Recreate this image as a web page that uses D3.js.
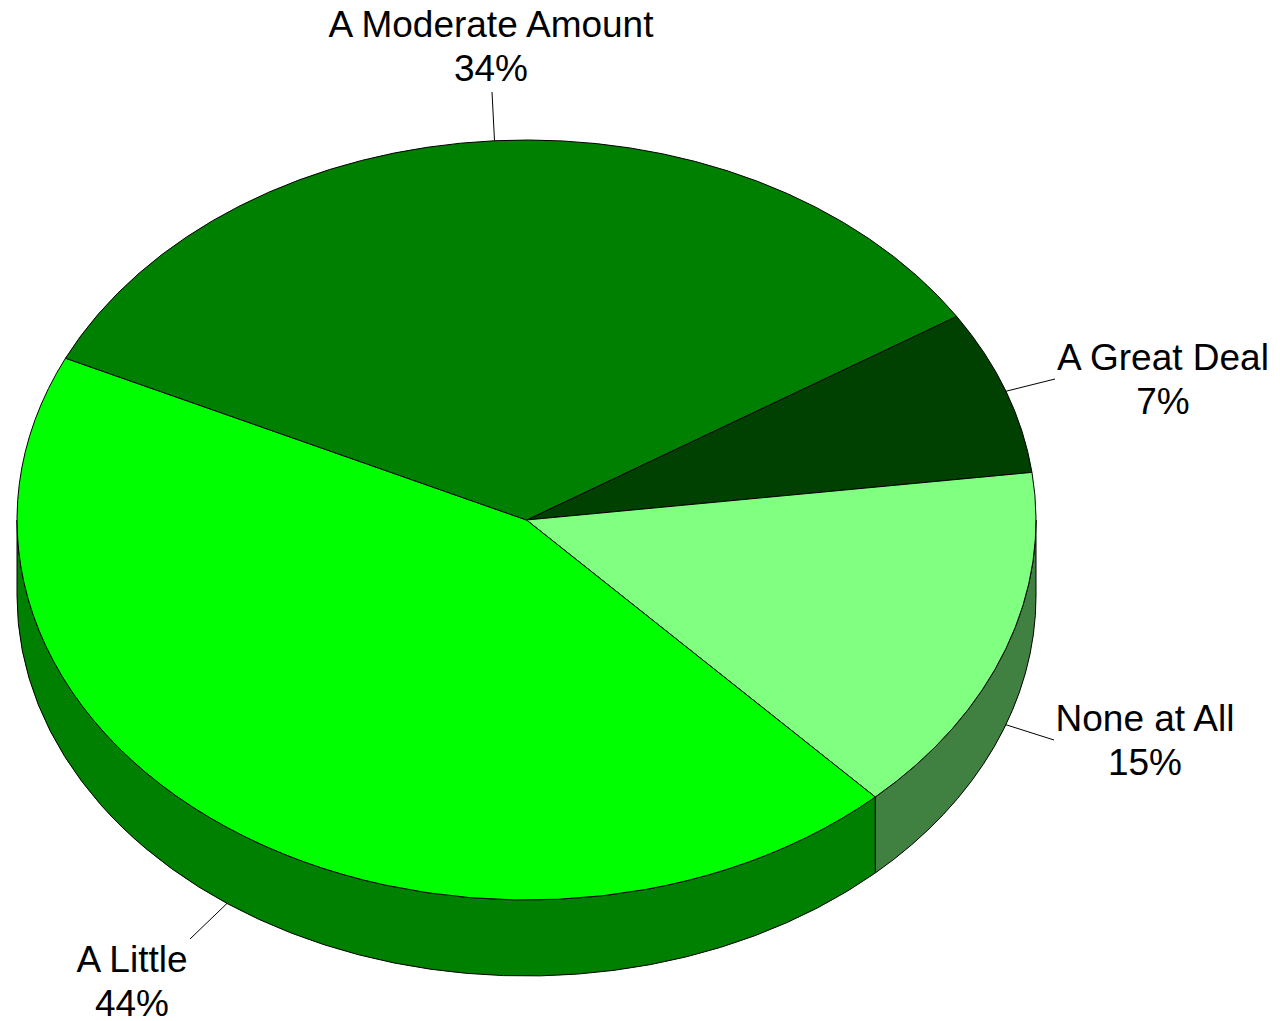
<!DOCTYPE html>
<html>
<head>
<meta charset="utf-8">
<script src="https://cdn.jsdelivr.net/npm/d3@7"></script>
<style>
  html, body { margin: 0; padding: 0; background: #fff; }
  svg { display: block; }
  text { font-family: Arial, "Liberation Sans", sans-serif; fill: #000; }
</style>
</head>
<body>
<div id="chart"></div>
<script>
  'use strict';

  // data, clockwise from the first slice
  var categories = ['A Great Deal', 'None at All', 'A Little', 'A Moderate Amount'];
  var values = [7, 15, 44, 34];
  var topColors = ['#004000', '#80ff80', '#00ff00', '#008000'];
  var sideColors = ['#002000', '#408040', '#008000', '#004000'];

  // label layout: text centre x, first baseline y, leader end point
  var labelLayout = [
    { x: 1163, y: 370, lx: 1055, ly: 379 },
    { x: 1145, y: 731, lx: 1054, ly: 740 },
    { x: 132, y: 972, lx: 190, ly: 939 },
    { x: 491, y: 37, lx: 492, ly: 92 }
  ];

  var width = 1280,
      height = 1021,
      cx = 526.5,
      cy = 520,
      rx = 509.5,
      ry = 380,
      depth = 76,
      fontSize = 37,
      lineGap = 44;

  var svg = d3.select('#chart').append('svg')
    .attr('width', width)
    .attr('height', height);

  var topColor = d3.scaleOrdinal().domain(categories).range(topColors);
  var sideColor = d3.scaleOrdinal().domain(categories).range(sideColors);

  // first slice starts 57.6deg clockwise from 12 o'clock
  var start = 57.6 * Math.PI / 180;
  var pie = d3.pie().sort(null).value(function (d) { return d.value; })
    .startAngle(start).endAngle(start + 2 * Math.PI);

  var slices = pie(categories.map(function (c, i) {
    return { name: c, value: values[i] };
  }));

  // pie angle -> screen angle (0 = 3 o'clock, clockwise)
  function scr(a) { return a - Math.PI / 2; }
  function pt(t, dy) {
    return [cx + rx * Math.cos(t), cy + ry * Math.sin(t) + (dy || 0)];
  }

  // sides (front half only)
  slices.forEach(function (s) {
    var a0 = scr(s.startAngle), a1 = scr(s.endAngle);
    // test both the angle range and the range shifted by a full turn
    [-2 * Math.PI, 0, 2 * Math.PI].forEach(function (k) {
      var s0 = Math.max(a0 + k, 0), s1 = Math.min(a1 + k, Math.PI);
      if (s1 - s0 <= 0.0001) return;
      var p0 = pt(s0), p1 = pt(s1), q1 = pt(s1, depth), q0 = pt(s0, depth);
      var path = 'M' + p0 + 'A' + rx + ',' + ry + ' 0 0 1 ' + p1 +
        'L' + q1 + 'A' + rx + ',' + ry + ' 0 0 0 ' + q0 + 'Z';
      svg.append('path')
        .attr('d', path)
        .attr('fill', sideColor(s.data.name))
        .attr('stroke', '#000')
        .attr('stroke-width', 1)
        .attr('stroke-linejoin', 'round');
    });
  });

  // top faces
  svg.selectAll('path.top')
    .data(slices)
    .enter()
    .append('path')
      .attr('class', 'top')
      .attr('d', function (s) {
        var a0 = scr(s.startAngle), a1 = scr(s.endAngle);
        var large = (a1 - a0) > Math.PI ? 1 : 0;
        return 'M' + cx + ',' + cy + 'L' + pt(a0) +
          'A' + rx + ',' + ry + ' 0 ' + large + ' 1 ' + pt(a1) + 'Z';
      })
      .attr('fill', function (s) { return topColor(s.data.name); })
      .attr('stroke', '#000')
      .attr('stroke-width', 1)
      .attr('stroke-linejoin', 'round');

  // leader lines and labels
  var fmt = d3.format('.0%');
  slices.forEach(function (s, i) {
    var lay = labelLayout[i];
    var mid = scr((s.startAngle + s.endAngle) / 2);
    var front = Math.sin(mid) > 0;
    var p = pt(mid, front ? depth : 0);

    svg.append('line')
      .attr('x1', p[0]).attr('y1', p[1])
      .attr('x2', lay.lx).attr('y2', lay.ly)
      .attr('stroke', '#000')
      .attr('stroke-width', 1);

    var t = svg.append('text')
      .attr('text-anchor', 'middle')
      .attr('font-size', fontSize);
    t.append('tspan').attr('x', lay.x).attr('y', lay.y).text(s.data.name);
    t.append('tspan').attr('x', lay.x).attr('y', lay.y + lineGap)
      .text(fmt(s.data.value / 100));
  });
</script>
</body>
</html>
